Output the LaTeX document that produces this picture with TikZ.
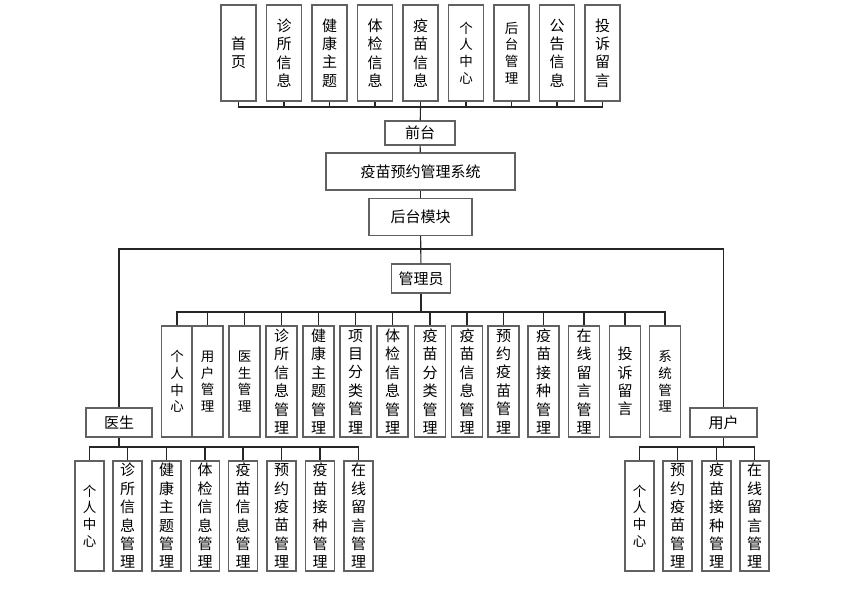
\documentclass[tikz,border=0pt]{standalone}
\usepackage{fontspec}
\setmainfont{Noto Sans CJK SC}
\usepackage{tikz}
\usetikzlibrary{positioning,calc}

\begin{document}
\begin{tikzpicture}[
    x=1pt, y=-1pt,
    box/.style={rectangle, draw=black!62, line width=1.3pt, inner sep=0pt, align=center, fill=white,
        font=\fontsize{15}{18.4}\selectfont},
    topbox/.style={box, minimum width=35pt, minimum height=96pt},
    admbox/.style={box, minimum width=31pt, minimum height=111pt},
    subbox/.style={box, minimum width=29pt, minimum height=110pt},
    sm/.style={font=\fontsize{13.5}{16.6}\selectfont},
    link/.style={draw=black!85, line width=1.1pt},
]
\useasboundingbox (0,0) rectangle (860,591);

% Front row
\node[topbox] (f1) at (238.5,53) {首\\页};
\node[topbox] (f2) at (284,53) {诊\\所\\信\\息};
\node[topbox] (f3) at (329.5,53) {健\\康\\主\\题};
\node[topbox] (f4) at (375,53) {体\\检\\信\\息};
\node[topbox] (f5) at (420.5,53) {疫\\苗\\信\\息};
\node[topbox, sm] (f6) at (466,53) {个\\人\\中\\心};
\node[topbox, sm] (f7) at (511.5,53) {后\\台\\管\\理};
\node[topbox] (f8) at (557,53) {公\\告\\信\\息};
\node[topbox] (f9) at (602.5,53) {投\\诉\\留\\言};

% Main column
\node[box, minimum width=70pt, minimum height=24pt] (front) at (420,133) {前台};
\node[box, minimum width=189pt, minimum height=37pt] (sys) at (420.5,171.5) {疫苗预约管理系统};
\node[box, minimum width=103pt, minimum height=37pt] (back) at (420.5,217) {后台模块};
\node[box, minimum width=59pt, minimum height=29pt] (admin) at (421,278.5) {管理员};
\node[box, minimum width=66pt, minimum height=29pt] (doctor) at (119,422.5) {医生};
\node[box, minimum width=67pt, minimum height=29pt] (user) at (723.5,422.5) {用户};

% Admin row
\node[admbox, sm] (a1) at (177,381.5) {个\\人\\中\\心};
\node[admbox, sm] (a2) at (207.5,381.5) {用\\户\\管\\理};
\node[admbox, sm] (a3) at (244.5,381.5) {医\\生\\管\\理};
\node[admbox] (a4) at (281.5,381.5) {诊\\所\\信\\息\\管\\理};
\node[admbox] (a5) at (318.5,381.5) {健\\康\\主\\题\\管\\理};
\node[admbox] (a6) at (355.5,381.5) {项\\目\\分\\类\\管\\理};
\node[admbox] (a7) at (392.5,381.5) {体\\检\\信\\息\\管\\理};
\node[admbox] (a8) at (430,381.5) {疫\\苗\\分\\类\\管\\理};
\node[admbox] (a9) at (467,381.5) {疫\\苗\\信\\息\\管\\理};
\node[admbox] (a10) at (503.5,381.5) {预\\约\\疫\\苗\\管\\理};
\node[admbox] (a11) at (543.5,381.5) {疫\\苗\\接\\种\\管\\理};
\node[admbox] (a12) at (584,381.5) {在\\线\\留\\言\\管\\理};
\node[admbox] (a13) at (625,381.5) {投\\诉\\留\\言};
\node[admbox, sm] (a14) at (665,381.5) {系\\统\\管\\理};

% Doctor row
\node[subbox, sm] (d1) at (89.5,516) {个\\人\\中\\心};
\node[subbox] (d2) at (127.5,516) {诊\\所\\信\\息\\管\\理};
\node[subbox] (d3) at (166.5,516) {健\\康\\主\\题\\管\\理};
\node[subbox] (d4) at (205,516) {体\\检\\信\\息\\管\\理};
\node[subbox] (d5) at (243,516) {疫\\苗\\信\\息\\管\\理};
\node[subbox] (d6) at (281.5,516) {预\\约\\疫\\苗\\管\\理};
\node[subbox] (d7) at (320,516) {疫\\苗\\接\\种\\管\\理};
\node[subbox] (d8) at (358.5,516) {在\\线\\留\\言\\管\\理};

% User row
\node[subbox, sm] (u1) at (639.5,516) {个\\人\\中\\心};
\node[subbox] (u2) at (677.5,516) {预\\约\\疫\\苗\\管\\理};
\node[subbox] (u3) at (716.5,516) {疫\\苗\\接\\种\\管\\理};
\node[subbox] (u4) at (754.5,516) {在\\线\\留\\言\\管\\理};

% Bus points
\coordinate (fbus) at (420.5,107);
\coordinate (bbus) at (420.5,249);
\coordinate (abus) at (421,312);
\coordinate (dbus) at (119,447);
\coordinate (ubus) at (723.5,447);

% Links
\draw[link] (front) -- (fbus);
\foreach \c in {f1,f2,f3,f4,f5,f6,f7,f8,f9}
    \draw[link] (fbus) -| (\c.south);
\draw[link] (front) -- (sys);
\draw[link] (sys) -- (back);
\draw[link] (back) -- (admin);
\draw[link] (bbus) -| (doctor.north);
\draw[link] (bbus) -| (user.north);
\draw[link] (admin) -- (abus);
\foreach \c in {a1,a2,a3,a4,a5,a6,a7,a8,a9,a10,a11,a12,a13,a14}
    \draw[link] (abus) -| (\c.north);
\draw[link] (doctor) -- (dbus);
\foreach \c in {d1,d2,d3,d4,d5,d6,d7,d8}
    \draw[link] (dbus) -| (\c.north);
\draw[link] (user) -- (ubus);
\foreach \c in {u1,u2,u3,u4}
    \draw[link] (ubus) -| (\c.north);

\end{tikzpicture}
\end{document}
